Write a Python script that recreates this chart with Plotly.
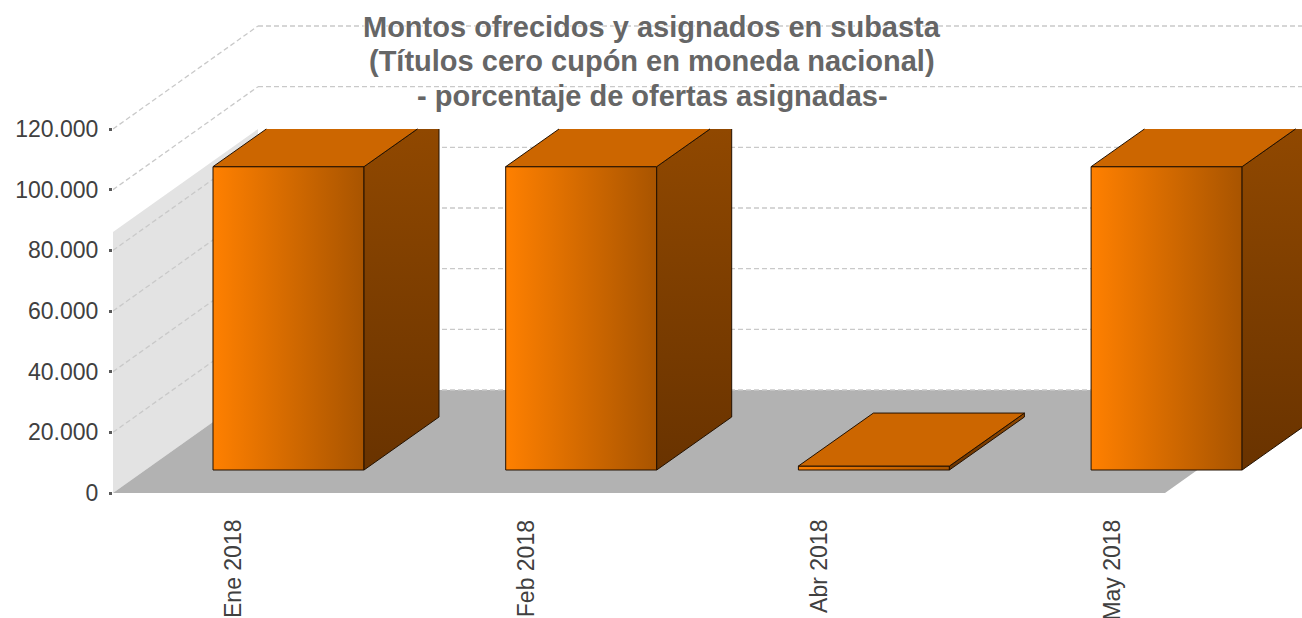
import plotly.graph_objects as go

# ---------------- data ----------------
categories = ["Ene 2018", "Feb 2018", "Abr 2018", "May 2018"]
values = [100000, 100000, 1300, 100000]
y_ticks = [0, 20000, 40000, 60000, 80000, 100000, 120000]
title_lines = [
    "Montos ofrecidos y asignados en subasta",
    "(Títulos cero cupón en moneda nacional)",
    "- porcentaje de ofertas asignadas-",
]

# ---------------- geometry (styling / projection) ----------------
W, H = 1302, 618
AX_LEFT = 113          # pixel of the front value axis
Y0_PX, YMAX_PX = 493, 129
YMAX = 120000
U = YMAX / (Y0_PX - YMAX_PX)      # value units per screen pixel
Y_RANGE = [-(H - Y0_PX) * U, Y0_PX * U]
X_RANGE = [0, W - AX_LEFT]

WALL_DX, WALL_DY = 145, 103 * U   # depth of the floor
FLOOR_W = 1052
WALL_FILL_TOP = 261 * U           # height of shaded side wall
BAR_X0, BAR_STEP, BAR_W = 100, 292.7, 151
BAR_LIFT_DX, BAR_LIFT_DY = 32, 23 * U
BAR_DX, BAR_DY = 75, 53 * U
LABEL_OFF = 20
TITLE_CENTERS_PX = [27, 61.5, 96]
TITLE_X_PX = 652

FONT = "Liberation Sans, Arial, sans-serif"
GRID = "#c9c9c9"

fig = go.Figure()


def poly(xs, ys, color=None, gradient=None, line=None):
    xs = list(xs) + [xs[0]]
    ys = list(ys) + [ys[0]]
    kw = dict(x=xs, y=ys, mode="lines", fill="toself", hoverinfo="skip",
              showlegend=False)
    if gradient:
        kw["fillgradient"] = gradient
    else:
        kw["fillcolor"] = color
    kw["line"] = line if line else dict(width=0, color="rgba(0,0,0,0)")
    fig.add_trace(go.Scatter(**kw))


def clip(pts, ymax):
    out = []
    n = len(pts)
    for k in range(n):
        x1, y1 = pts[k]
        x2, y2 = pts[(k + 1) % n]
        in1, in2 = y1 <= ymax, y2 <= ymax
        if in1:
            out.append((x1, y1))
        if in1 != in2:
            t = (ymax - y1) / (y2 - y1)
            out.append((x1 + t * (x2 - x1), ymax))
    return out


def outline(pts, ymax, color="#231100", width=1):
    xs, ys = [], []
    n = len(pts)
    for k in range(n):
        x1, y1 = pts[k]
        x2, y2 = pts[(k + 1) % n]
        if abs(y1 - ymax) < 1e-6 and abs(y2 - ymax) < 1e-6:
            continue
        xs += [x1, x2, None]
        ys += [y1, y2, None]
    fig.add_trace(go.Scatter(x=xs, y=ys, mode="lines", hoverinfo="skip",
                             showlegend=False,
                             line=dict(color=color, width=width)))


# side wall
poly([0, WALL_DX, WALL_DX, 0],
     [0, WALL_DY, WALL_DY + WALL_FILL_TOP, WALL_FILL_TOP], color="#e3e3e3")
# floor
poly([0, FLOOR_W, FLOOR_W + WALL_DX, WALL_DX],
     [0, 0, WALL_DY, WALL_DY], color="#b2b2b2")

# gridlines (side wall diagonals + back wall horizontals)
gx, gy = [], []
for v in y_ticks:
    if v > 0:
        gx += [0, WALL_DX, None]
        gy += [v, v + WALL_DY, None]
    gx += [WALL_DX, WALL_DX + FLOOR_W, None]
    gy += [v + WALL_DY, v + WALL_DY, None]
fig.add_trace(go.Scatter(x=gx, y=gy, mode="lines", hoverinfo="skip",
                         showlegend=False,
                         line=dict(color=GRID, width=1.3, dash="5px,3px")))

# bars
for i, v in enumerate(values):
    xl = BAR_X0 + i * BAR_STEP
    xr = xl + BAR_W
    yb = BAR_LIFT_DY
    yt = yb + v
    front = [(xl, yb), (xr, yb), (xr, yt), (xl, yt)]
    side = [(xr, yb), (xr + BAR_DX, yb + BAR_DY), (xr + BAR_DX, yt + BAR_DY), (xr, yt)]
    top = [(xl, yt), (xr, yt), (xr + BAR_DX, yt + BAR_DY), (xl + BAR_DX, yt + BAR_DY)]
    for pts, style in [
        (front, dict(gradient=dict(type="horizontal",
                                   colorscale=[[0, "#ff8000"], [1, "#a85400"]]))),
        (side, dict(gradient=dict(type="vertical",
                                  colorscale=[[0, "#693300"], [1, "#904800"]]))),
        (top, dict(color="#cc6600")),
    ]:
        c = clip(pts, YMAX)
        if len(c) >= 3:
            poly([p[0] for p in c], [p[1] for p in c], **style)
            outline(c, YMAX)

# category labels
for i, cat in enumerate(categories):
    fig.add_annotation(
        x=BAR_X0 + i * BAR_STEP + LABEL_OFF, y=-(518 - Y0_PX) * U,
        xref="x", yref="y", text=cat, textangle=-90, showarrow=False,
        xanchor="center", yanchor="top",
        font=dict(family=FONT, size=23, color="#404040"))

# chart title (three centred lines)
for line, cy in zip(title_lines, TITLE_CENTERS_PX):
    fig.add_annotation(
        x=(TITLE_X_PX - AX_LEFT) / (W - AX_LEFT), xref="paper",
        y=1 - cy / H, yref="paper", xanchor="center", yanchor="middle",
        text="<b>" + line + "</b>", showarrow=False,
        font=dict(family=FONT, size=29, color="#666666",
                  shadow="0 0 2px #fff, 0 0 2px #fff, 0 0 3px #fff"))

fig.update_layout(
    width=W, height=H,
    margin=dict(l=AX_LEFT, r=0, t=0, b=0, pad=0),
    paper_bgcolor="white", plot_bgcolor="rgba(0,0,0,0)",
    separators=",.",
    showlegend=False,
    xaxis=dict(range=X_RANGE, visible=False, fixedrange=True),
    yaxis=dict(range=Y_RANGE, tickvals=y_ticks, tickformat=",d",
               showgrid=False, zeroline=False, showline=False,
               ticks="outside", ticklen=3, tickwidth=3, tickcolor="#595959",
               ticklabelstandoff=6,
               tickfont=dict(family=FONT, size=23, color="#404040"),
               fixedrange=True),
)

fig.write_html("out.html", config={"displayModeBar": False},
               post_script="document.body.style.margin='0';")
